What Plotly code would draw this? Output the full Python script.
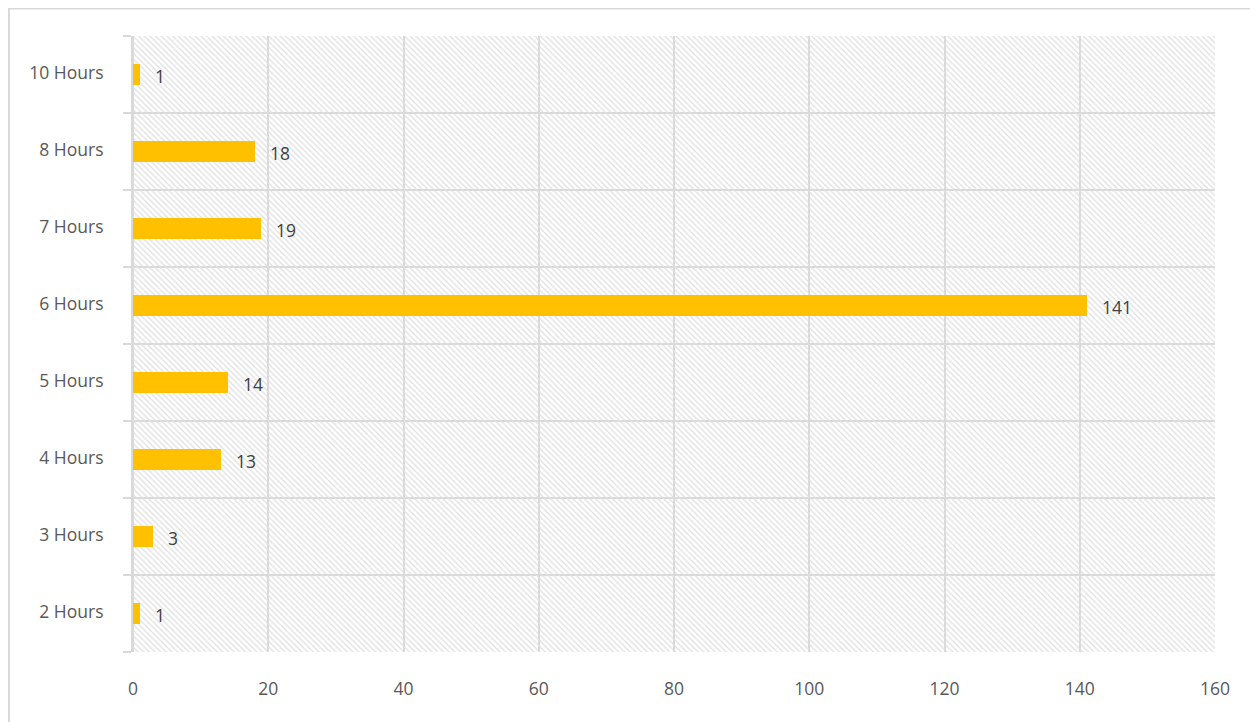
import plotly.graph_objects as go

categories = ["2 Hours", "3 Hours", "4 Hours", "5 Hours", "6 Hours", "7 Hours", "8 Hours", "10 Hours"]
values = [1, 3, 13, 14, 141, 19, 18, 1]
x_max = 160
x_ticks = [0, 20, 40, 60, 80, 100, 120, 140, 160]

W, H = 1250, 714
ML, MR, MT, MB = 125, 43, 28, 70
pw, ph = W - ML - MR, H - MT - MB

grid = "#d9d9d9"
font = "Open Sans, Noto Sans, sans-serif"

fig = go.Figure()
# hatched background of the plot area
fig.add_trace(go.Bar(
    y=categories, x=[x_max] * len(categories), orientation="h", width=1,
    marker=dict(color="#dedede", line=dict(width=0),
                pattern=dict(shape="\\", size=4, solidity=0.3, fillmode="replace")),
    hoverinfo="skip", showlegend=False,
))
fig.add_trace(go.Bar(
    y=categories, x=values, orientation="h", width=0.28,
    marker=dict(color="#FFC000", line=dict(width=0)),
    showlegend=False,
))

for c, v in zip(categories, values):
    fig.add_annotation(x=v, y=c, text=str(v), showarrow=False, xanchor="left",
                       xshift=13, yshift=-1, font=dict(family=font, size=17.5, color="#404040"))

# outer chart border
fig.add_shape(type="rect", xref="paper", yref="paper",
              x0=(1 - ML) / pw, x1=(W + 10 - ML) / pw,
              y0=-(H + 10 - MT - ph) / ph, y1=1 + (MT - 0.5) / ph,
              line=dict(color=grid, width=2), layer="below")

fig.update_layout(
    width=W, height=H, barmode="overlay",
    margin=dict(l=ML, r=MR, t=MT, b=MB),
    paper_bgcolor="white", plot_bgcolor="white",
    font=dict(family=font, size=17.5, color="#595959"),
    bargap=0,
)
fig.update_xaxes(range=[0, x_max], tickvals=x_ticks, showgrid=True, gridcolor=grid, gridwidth=2,
                 zeroline=True, zerolinecolor=grid, zerolinewidth=2, showline=False, ticks="",
                 ticklabelstandoff=24, fixedrange=True)
fig.update_yaxes(type="category", categoryorder="array", categoryarray=categories,
                 tickson="boundaries", ticks="outside", ticklen=8, tickcolor=grid, tickwidth=2,
                 showgrid=True, gridcolor=grid, gridwidth=2, showline=True, linecolor=grid,
                 linewidth=2, ticklabelstandoff=24, ticklabelshift=-2,
                 range=[-0.5, len(categories) - 0.5], fixedrange=True)

fig.write_html("out.html")
